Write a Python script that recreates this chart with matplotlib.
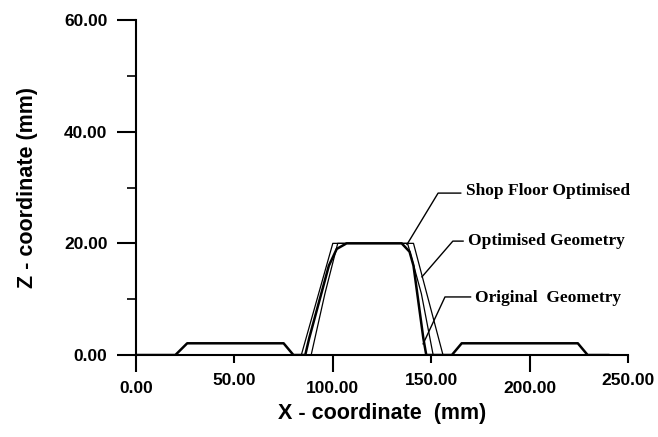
import matplotlib
matplotlib.use("Agg")
import matplotlib.pyplot as plt
from matplotlib.ticker import FixedLocator, FuncFormatter

# ---- data ----
orig_x = [0, 20, 26, 75, 80, 86, 88, 98, 102, 107, 135, 139, 141, 146, 147.5, 160.5, 165.5, 224.5, 229.5, 240]
orig_z = [0, 0, 2.1, 2.1, 0, 0, 3, 16, 19, 20, 20, 18.5, 16, 3, 0, 0, 2.1, 2.1, 0, 0]

opt_x = [80, 84, 100, 141, 156, 160]
opt_z = [0, 0, 20, 20, 0, 0]

shop_x = [80, 89, 96, 102.5, 138, 145, 151, 160]
shop_z = [0, 0, 11, 20, 20, 11, 0, 0]

x_major = [0, 100, 200]
x_minor = [50, 150, 250]
y_major = [0, 20, 40, 60]
y_minor = [10, 30, 50]

labels = ["Shop Floor Optimised", "Optimised Geometry", "Original  Geometry"]
label_pos = [(167.5, 29.3), (168.7, 20.5), (172.5, 10.2)]
elbow_pos = [(153.5, 29.0), (161.0, 20.4), (157.0, 10.4)]
arrow_tip = [(137.7, 19.8), (145.3, 14.0), (145.9, 2.0)]

# ---- figure ----
fig = plt.figure(figsize=(6.58, 4.37), dpi=100)
ax = fig.add_axes([0.2067, 0.1876, 0.7477, 0.7666])

ax.plot(opt_x, opt_z, color="black", lw=0.9)
ax.plot(shop_x, shop_z, color="black", lw=0.9)
ax.plot(orig_x, orig_z, color="black", lw=1.8)

ax.set_xlim(0, 250)
ax.set_ylim(0, 60)

for s in ["top", "right"]:
    ax.spines[s].set_visible(False)
for s in ["left", "bottom"]:
    ax.spines[s].set_linewidth(1.5)

fmt = FuncFormatter(lambda v, p: f"{v:.2f}")
ax.xaxis.set_major_locator(FixedLocator(x_major))
ax.xaxis.set_minor_locator(FixedLocator(x_minor))
ax.xaxis.set_major_formatter(fmt)
ax.xaxis.set_minor_formatter(fmt)
ax.yaxis.set_major_locator(FixedLocator(y_major))
ax.yaxis.set_minor_locator(FixedLocator(y_minor))
ax.yaxis.set_major_formatter(fmt)

ax.tick_params(axis="x", which="major", direction="out", length=12.5, width=1.5, pad=6.5)
ax.tick_params(axis="x", which="minor", direction="out", length=6, width=1.5, pad=7.0)
ax.tick_params(axis="y", which="major", direction="out", length=13.5, width=1.5, pad=7.0)
ax.tick_params(axis="y", which="minor", direction="out", length=6.5, width=1.2)
for lab in ax.get_xticklabels(which="both") + ax.get_yticklabels():
    lab.set_fontfamily("Liberation Sans")
    lab.set_fontweight("bold")
    lab.set_fontsize(12.5)

ax.set_xlabel("X - coordinate  (mm)", fontfamily="Liberation Sans", fontweight="bold",
              fontsize=15.5, labelpad=5)
ax.set_ylabel("Z - coordinate (mm)", fontfamily="Liberation Sans", fontweight="bold",
              fontsize=15.5, labelpad=19)

for lab, lp, ep, tp in zip(labels, label_pos, elbow_pos, arrow_tip):
    ax.plot([tp[0], ep[0], lp[0] - 2.5], [tp[1], ep[1], ep[1]], color="black", lw=1.0,
            clip_on=False)
    ax.text(lp[0], lp[1], lab, fontfamily="Liberation Serif", fontweight="bold",
            fontsize=12.5, va="center", ha="left")

fig.savefig("out.png", dpi=100)
